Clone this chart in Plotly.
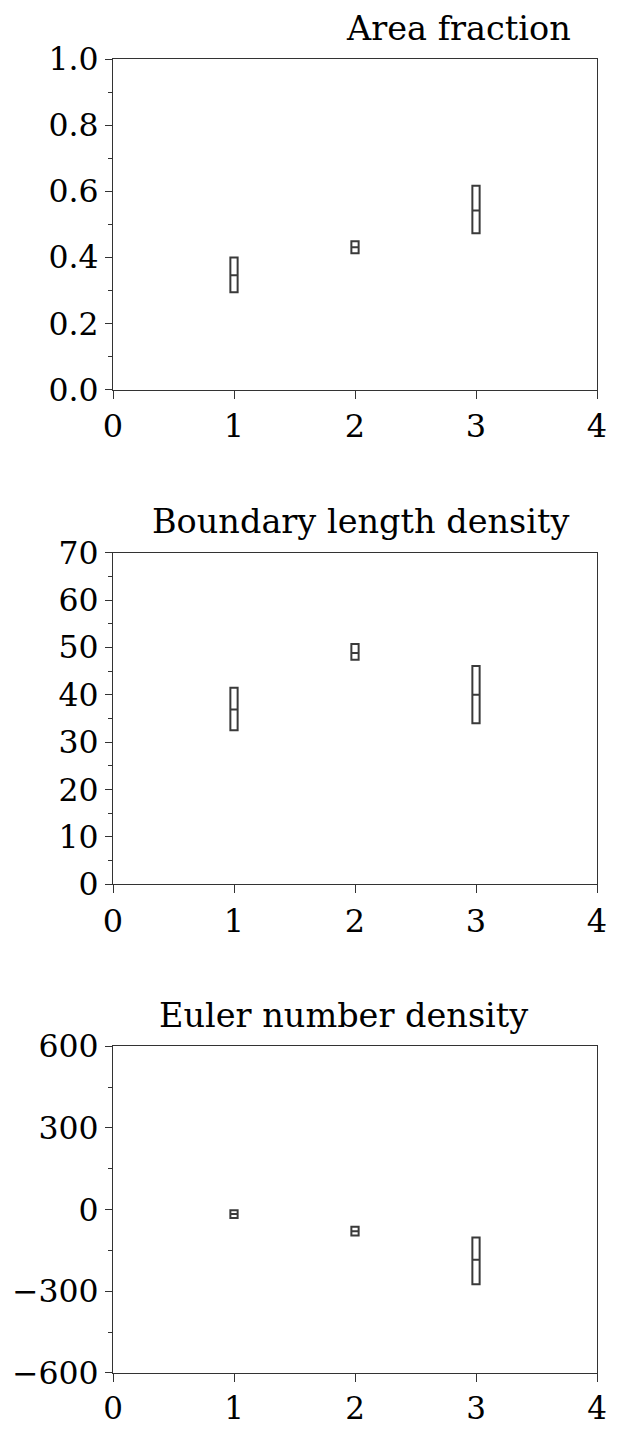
import plotly.graph_objects as go
from plotly.subplots import make_subplots

positions = [1, 2, 3]

area_q1 = [0.295, 0.413, 0.473]
area_med = [0.346, 0.431, 0.542]
area_q3 = [0.400, 0.449, 0.617]

bld_q1 = [32.5, 47.4, 34.0]
bld_med = [36.9, 48.8, 40.0]
bld_q3 = [41.5, 50.7, 46.1]

euler_q1 = [-31, -95, -274]
euler_med = [-16, -79, -184]
euler_q3 = [-2, -63, -102]

titles = ["Area fraction", "Boundary length density", "Euler number density"]

W, H = 619, 1438
title_px = [464, 364, 346]
L = 110
RIGHT = 606
T = 59
panels_px = [(59, 392), (556, 890), (1053, 1382)]
B = H - panels_px[-1][1]
R = W - RIGHT
plot_h = H - T - B
xfont_sizes = [32, 32, 31]

fig = make_subplots(rows=3, cols=1)
FONT = "DejaVu Serif"
LC = "#333333"

data = [(area_q1, area_med, area_q3), (bld_q1, bld_med, bld_q3), (euler_q1, euler_med, euler_q3)]
yranges = [(0, 1.0), (0, 70), (-600, 600)]
ydticks = [0.2, 10, 300]

for i, (q1, med, q3) in enumerate(data):
    fig.add_trace(go.Box(
        x=positions, q1=q1, median=med, q3=q3, lowerfence=q1, upperfence=q3,
        width=0.06, fillcolor="white", line=dict(color="#3a3a3a", width=2),
        whiskerwidth=0, showlegend=False, boxpoints=False, hoverinfo="skip"),
        row=i + 1, col=1)

for i in range(3):
    top, bot = panels_px[i]
    dom = [(H - B - bot) / plot_h, (H - B - top) / plot_h]
    ax = "" if i == 0 else str(i + 1)
    fig.layout["yaxis" + ax].update(
        domain=dom, range=list(yranges[i]), dtick=ydticks[i], tick0=0,
        ticks="outside", ticklen=7, tickwidth=1.3, tickcolor=LC,
        showline=True, linecolor=LC, linewidth=1.3, mirror=True,
        showgrid=False, zeroline=False,
        tickfont=dict(family=FONT, size=31.5, color="black"),
        tickformat=".1f" if i == 0 else "d",
        minor=dict(ticks="outside", ticklen=4, tickcolor=LC, dtick=ydticks[i] / 2, tick0=0, showgrid=False),
    )
    fig.layout["xaxis" + ax].update(
        range=[0, 4], dtick=1, tick0=0,
        ticks="outside", ticklen=8, tickwidth=1.3, tickcolor=LC,
        showline=True, linecolor=LC, linewidth=1.3, mirror=True,
        showgrid=False, zeroline=False, ticklabeloverflow="allow",
        tickfont=dict(family=FONT, size=xfont_sizes[i], color="black"),
    )
    fig.add_annotation(
        text=titles[i], xref="paper", yref="y" + ax + " domain",
        x=(title_px[i] - L) / (RIGHT - L), y=1, yanchor="middle", xanchor="center",
        yshift=31, showarrow=False, font=dict(family=FONT, size=33.5, color="black"))

fig.update_layout(
    width=W, height=H, margin=dict(l=L, r=R, t=T, b=B),
    paper_bgcolor="white", plot_bgcolor="white",
)
fig.write_html("out.html")
